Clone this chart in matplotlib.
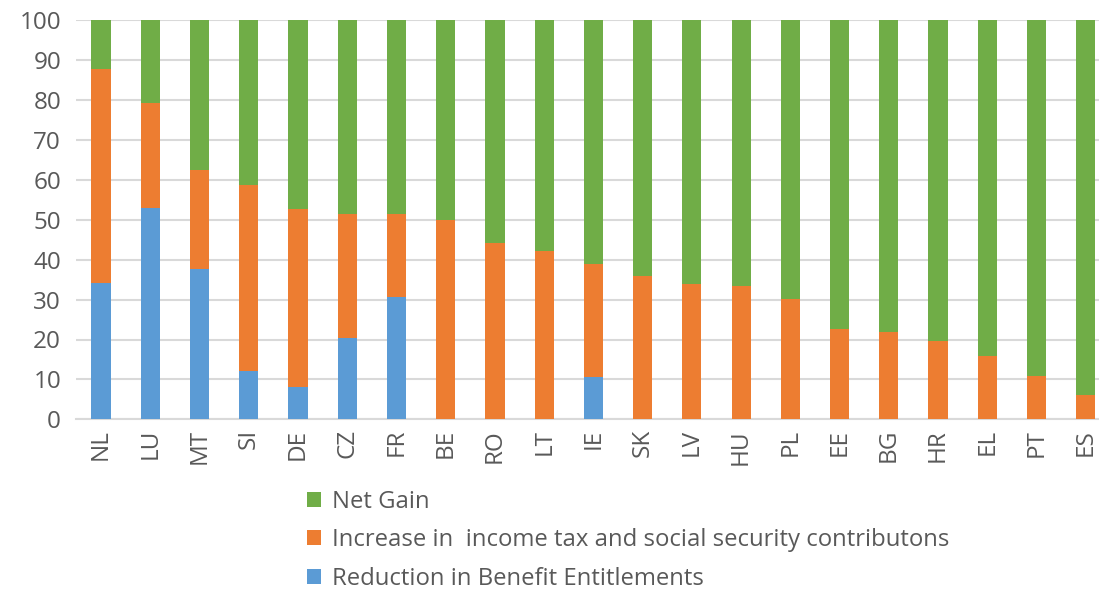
import matplotlib
matplotlib.use("Agg")
import matplotlib.pyplot as plt
import numpy as np

plt.rcParams['font.family'] = ['Open Sans', 'DejaVu Sans']

# Data (percent shares)
countries = ["NL", "LU", "MT", "SI", "DE", "CZ", "FR", "BE", "RO", "LT", "IE",
             "SK", "LV", "HU", "PL", "EE", "BG", "HR", "EL", "PT", "ES"]
benefit_cut = [34.2, 53.0, 37.6, 12.0, 8.1, 20.5, 30.7, 0, 0, 0, 10.6,
               0, 0, 0, 0, 0, 0, 0, 0, 0, 0]
# top of the orange segment (cumulative)
tax_top = [87.9, 79.3, 62.6, 58.7, 52.6, 51.5, 51.5, 49.9, 44.1, 42.2, 38.9,
           35.9, 34.0, 33.4, 30.1, 22.6, 22.0, 19.6, 15.8, 10.9, 6.1]

benefit_cut = np.array(benefit_cut)
tax_inc = np.array(tax_top) - benefit_cut
net_gain = 100 - np.array(tax_top)

c_blue, c_orange, c_green = "#5B9BD5", "#ED7D31", "#70AD47"
txt = "#595959"

fig = plt.figure(figsize=(10.99, 5.90), dpi=100)
# plot area is slightly cropped on the right in the reference
ax = fig.add_axes([76.4 / 1099, 1 - 419.3 / 590, 1034 / 1099, 399 / 590])

x = np.arange(len(countries))
w = 0.39
b1 = ax.bar(x, benefit_cut, w, color=c_blue, label="Reduction in Benefit Entitlements", zorder=3)
b2 = ax.bar(x, tax_inc, w, bottom=benefit_cut, color=c_orange,
            label="Increase in  income tax and social security contributons", zorder=3)
b3 = ax.bar(x, net_gain, w, bottom=benefit_cut + tax_inc, color=c_green, label="Net Gain", zorder=3)

ax.set_xlim(-0.5, len(countries) - 0.5)
ax.set_ylim(0, 100)
ax.set_yticks(range(0, 101, 10))
ax.yaxis.grid(True, color="#d9d9d9", linewidth=1.5, zorder=0)
ax.set_axisbelow(True)
for s in ["left", "right", "top"]:
    ax.spines[s].set_visible(False)
ax.spines["bottom"].set_color("#d9d9d9")
ax.spines["bottom"].set_linewidth(1.5)
ax.tick_params(axis="both", length=0, colors=txt, labelsize=17.5)
ax.tick_params(axis="y", pad=11)
ax.tick_params(axis="x", pad=7)
ax.set_xticks(x)
ax.set_xticklabels(countries, rotation=90)

leg = fig.legend(handles=[b3, b2, b1], loc="upper left",
                 bbox_to_anchor=(307 / 1099, 1 - 490 / 590), frameon=False,
                 fontsize=17.2, handlelength=0.6, handleheight=0.6,
                 handletextpad=0.45, labelspacing=0.6, borderaxespad=0,
                 borderpad=0)
for t in leg.get_texts():
    t.set_color(txt)

fig.savefig("out.png", dpi=100)
